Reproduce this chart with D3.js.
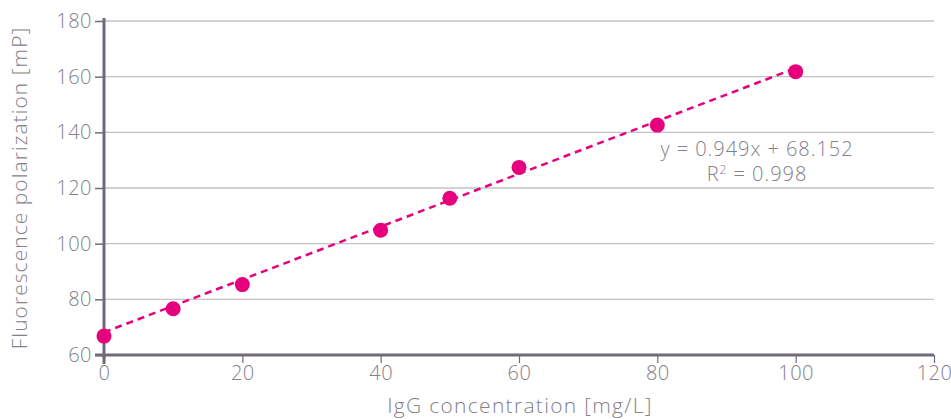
<!DOCTYPE html>
<html><head><meta charset="utf-8">
<script src="https://cdn.jsdelivr.net/npm/d3@7"></script>
<style>
html,body{margin:0;padding:0;background:#fff;}
text{font-family:"Open Sans",sans-serif;font-weight:300;}
</style></head>
<body><svg id="c" width="951" height="419"></svg>
<script>
const concentrations = [0, 10, 20, 40, 50, 60, 80, 100];
const polarization = [66.8, 76.6, 85.3, 104.8, 116.3, 127.4, 142.6, 161.8];
const xTicks = [0, 20, 40, 60, 80, 100, 120];
const yTicks = [60, 80, 100, 120, 140, 160, 180];
const slope = 0.949, intercept = 68.152, r2 = 0.998;
const trendX = [0, 100];

const svg = d3.select("#c");
const x = d3.scaleLinear().domain([0,120]).range([104,934]);
const y = d3.scaleLinear().domain([60,180]).range([355,21]);
const axisCol = "#716b78", textCol = "#858089", gridCol = "#c4c2c6", pink = "#e6007e";
const FF = "'Open Sans',sans-serif";

// grid
svg.append("g").selectAll("line").data(yTicks.filter(d=>d>60)).join("line")
  .attr("x1", x(0)).attr("x2", x(120)).attr("y1", d=>y(d)).attr("y2", d=>y(d))
  .attr("stroke", gridCol).attr("stroke-width", 1.3);

// y axis
const ya = svg.append("g").attr("transform", `translate(${x(0)},0)`)
  .call(d3.axisLeft(y).tickValues(yTicks).tickSize(9).tickPadding(3));
ya.select(".domain").remove();
ya.selectAll(".tick line").attr("stroke", axisCol).attr("stroke-width", 1.5);
ya.selectAll("text").attr("fill", textCol).attr("font-size", 20).attr("letter-spacing", 0.5).style("font-family",FF).style("font-weight",300);
svg.append("line").attr("x1", x(0)).attr("x2", x(0)).attr("y1", y(180)-3).attr("y2", y(60)+3)
  .attr("stroke", axisCol).attr("stroke-width", 3);

// x axis
const xa = svg.append("g").attr("transform", `translate(0,${y(60)})`)
  .call(d3.axisBottom(x).tickValues(xTicks).tickSize(8).tickPadding(3));
xa.select(".domain").remove();
xa.selectAll(".tick line").attr("stroke", axisCol).attr("stroke-width", 1.2);
xa.selectAll("text").attr("fill", textCol).attr("font-size", 20).attr("letter-spacing", 0.5).style("font-family",FF).style("font-weight",300);
svg.append("line").attr("x1", x(0)-9).attr("x2", x(120)).attr("y1", y(60)).attr("y2", y(60))
  .attr("stroke", axisCol).attr("stroke-width", 3);
svg.append("line").attr("x1", x(0)).attr("x2", x(0)).attr("y1", y(60)).attr("y2", y(60)+9)
  .attr("stroke", axisCol).attr("stroke-width", 3);

// trend line
svg.append("line")
  .attr("x1", x(trendX[0])).attr("y1", y(slope*trendX[0]+intercept))
  .attr("x2", x(trendX[1])).attr("y2", y(slope*trendX[1]+intercept))
  .attr("stroke", pink).attr("stroke-width", 2.5).attr("stroke-dasharray", "7,5");

// points
svg.append("g").selectAll("circle").data(concentrations).join("circle")
  .attr("cx", d=>x(d)).attr("cy", (d,i)=>y(polarization[i])).attr("r", 7.5).attr("fill", pink);

// equation
svg.append("text").attr("x", 757).attr("y", 156).attr("text-anchor","middle")
  .attr("fill", textCol).attr("font-size", 20).attr("letter-spacing", 0.95).text(`y = ${slope}x + ${intercept}`);
const t2 = svg.append("text").attr("x", 757).attr("y", 181).attr("text-anchor","middle")
  .attr("fill", textCol).attr("font-size", 20).attr("letter-spacing", 0.95);
t2.append("tspan").text("R");
t2.append("tspan").attr("font-size", 12).attr("dy", -7).text("2");
t2.append("tspan").attr("dy", 7).text(` = ${r2}`);

// axis titles
svg.append("text").attr("x", 520).attr("y", 413).attr("text-anchor","middle")
  .attr("fill", textCol).attr("font-size", 21).attr("letter-spacing", 1.3).text("IgG concentration [mg/L]");
svg.append("text").attr("transform","translate(27,188) rotate(-90)").attr("text-anchor","middle")
  .attr("fill", textCol).attr("font-size", 21).attr("letter-spacing", 1.05).text("Fluorescence polarization [mP]");
</script></body></html>
